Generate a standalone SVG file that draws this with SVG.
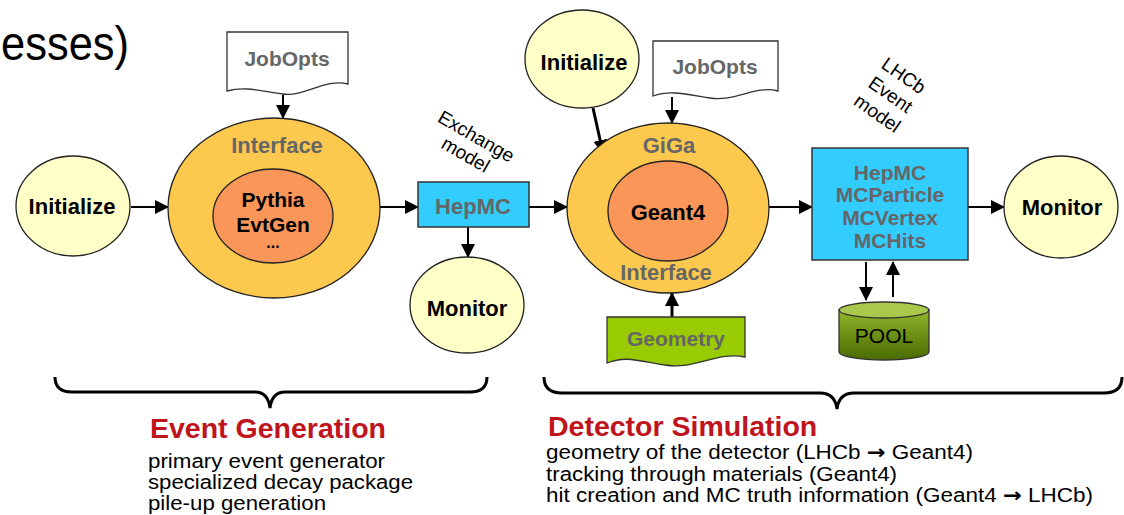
<svg xmlns="http://www.w3.org/2000/svg" width="1124" height="515" viewBox="0 0 1124 515">
<defs>
<marker id="ah" markerUnits="userSpaceOnUse" markerWidth="14" markerHeight="14" refX="13" refY="7" orient="auto">
<path d="M0,0 L14,7 L0,14 Z" fill="#000"/>
</marker>
<linearGradient id="poolg" x1="0" y1="0" x2="0" y2="1">
<stop offset="0" stop-color="#8fb52a"/>
<stop offset="1" stop-color="#4a6a00"/>
</linearGradient>
<style>
.t{font-family:"Liberation Sans",Arial,sans-serif;text-anchor:middle}
.b{font-weight:bold;font-size:22px;fill:#000}
.g{font-weight:bold;font-size:22px;fill:#666}
.el{stroke:#222;stroke-width:1.3}
.yel{fill:#ffffc8}
.org{fill:#fdc84e}
.inr{fill:#fb9659}
.blu{fill:#33ccff;stroke:#333;stroke-width:1.5}
.doc{fill:#fff;stroke:#333;stroke-width:1.3}
.c{stroke:#000;stroke-width:2;fill:none;marker-end:url(#ah)}
.ck{stroke:#000;stroke-width:3;fill:none;marker-end:url(#ah)}
.rot{font-family:"Liberation Sans",Arial,sans-serif;font-size:19px;fill:#000;text-anchor:middle}
.h{font-family:"Liberation Sans",Arial,sans-serif;font-weight:bold;font-size:28.5px;fill:#c0141c}
.d{font-family:"Liberation Sans",Arial,sans-serif;font-size:20px;fill:#000}
.ar{font-family:"DejaVu Sans",sans-serif;font-weight:bold}
.br{stroke:#000;stroke-width:3;fill:none}
</style>
</defs>
<rect width="1124" height="515" fill="#fff"/>
<text x="1" y="60" font-family="Liberation Sans, Arial, sans-serif" font-size="48" textLength="128" lengthAdjust="spacingAndGlyphs" fill="#000">esses)</text>

<g id="connectors">
<line class="c" x1="131" y1="207" x2="168" y2="207"/>
<line class="c" x1="283" y1="95" x2="283" y2="118"/>
<line class="c" x1="380" y1="207" x2="418" y2="207"/>
<line class="c" x1="468" y1="227" x2="468" y2="257"/>
<line class="c" x1="529" y1="207" x2="567" y2="207"/>
<line class="ck" x1="593" y1="108" x2="603" y2="153"/>
<line class="c" x1="672" y1="97" x2="672" y2="123"/>
<line class="ck" x1="672" y1="317" x2="672" y2="293"/>
<line class="c" x1="769" y1="207" x2="812" y2="207"/>
<line class="c" x1="866" y1="262" x2="866" y2="300"/>
<line class="c" x1="893" y1="297" x2="893" y2="262"/>
<line class="c" x1="968" y1="207" x2="1004" y2="207"/>
</g>

<g id="init1">
<ellipse class="el yel" cx="73" cy="206" rx="57" ry="50"/>
<text class="t b" x="72" y="214" font-size="21">Initialize</text>
</g>

<g id="jobopts1">
<path class="doc" d="M227,32 H348 V84 C325,78 305,97 283,94 S245,86 227,91 Z"/>
<text class="t g" x="287" y="66" style="font-size:21px">JobOpts</text>
</g>

<g id="generator">
<ellipse class="el org" cx="274" cy="208" rx="106" ry="90"/>
<ellipse class="el inr" cx="273" cy="216" rx="60" ry="47"/>
<text class="t g" x="277" y="153">Interface</text>
<text class="t b" x="273" y="207" style="font-size:21px">Pythia</text>
<text class="t b" x="273" y="232" style="font-size:21px">EvtGen</text>
<text class="t b" x="273" y="248" style="font-size:16px">...</text>
</g>

<g id="hepmc1">
<rect class="blu" x="418" y="182" width="111" height="45"/>
<text class="t g" x="473" y="214">HepMC</text>
</g>

<g id="exchange">
<g transform="translate(473,142) rotate(30)">
<text class="rot" x="0" y="0">Exchange</text>
<text class="rot" x="0" y="21">model</text>
</g>
</g>

<g id="monitor1">
<ellipse class="el yel" cx="467" cy="305" rx="57" ry="48"/>
<text class="t b" x="467" y="316">Monitor</text>
</g>

<g id="init2">
<ellipse class="el yel" cx="582" cy="59" rx="57" ry="49"/>
<text class="t b" x="584" y="70">Initialize</text>
</g>

<g id="jobopts2">
<path class="doc" d="M653,41 H778 V91 C755,85 735,102 710,98 S670,90 653,96 Z"/>
<text class="t g" x="715" y="74" style="font-size:21px">JobOpts</text>
</g>

<g id="giga">
<ellipse class="el org" cx="668" cy="208" rx="101" ry="85"/>
<ellipse class="el inr" cx="668" cy="211" rx="60" ry="50"/>
<text class="t g" x="669" y="153">GiGa</text>
<text class="t b" x="668" y="220">Geant4</text>
<text class="t g" x="666" y="280">Interface</text>
</g>

<g id="geometry">
<path d="M607,317 H745 V357 C718,351 695,370 665,365 S625,356 607,363 Z" fill="#99cc00" stroke="#333" stroke-width="1.3"/>
<text class="t g" x="676" y="346" style="font-size:21px">Geometry</text>
</g>

<g id="lhcbmodel">
<g transform="translate(900,81) rotate(35)">
<text class="rot" x="0" y="0">LHCb</text>
<text class="rot" x="0" y="23">Event</text>
<text class="rot" x="0" y="46">model</text>
</g>
</g>

<g id="eventmodel">
<rect class="blu" x="812" y="148" width="156" height="112"/>
<text class="t g" x="890" y="180" style="font-size:21px">HepMC</text>
<text class="t g" x="890" y="202" style="font-size:21px">MCParticle</text>
<text class="t g" x="890" y="225" style="font-size:21px">MCVertex</text>
<text class="t g" x="890" y="248" style="font-size:21px">MCHits</text>
</g>

<g id="pool">
<path d="M839,310 V352 A45,8 0 0 0 929,352 V310 Z" fill="url(#poolg)" stroke="#333" stroke-width="1.3"/>
<ellipse cx="884" cy="310" rx="45" ry="8" fill="#a9c94c" stroke="#333" stroke-width="1.3"/>
<text class="t" x="884" y="343" font-size="21" fill="#000">POOL</text>
</g>

<g id="monitor2">
<ellipse class="el yel" cx="1061" cy="207" rx="57" ry="51"/>
<text class="t b" x="1062" y="215">Monitor</text>
</g>

<g id="braces">
<path class="br" d="M55,377 Q55,392 72,392 H255 Q268,392 270,408 Q272,392 285,392 H470 Q487,392 487,377"/>
<path class="br" d="M544,377 Q544,393 562,393 H820 Q835,393 837,409 Q839,393 854,393 H1104 Q1122,393 1122,377"/>
</g>

<g id="eventgen">
<text class="h" x="150" y="438">Event Generation</text>
<text class="d" x="148" y="468" textLength="237" lengthAdjust="spacingAndGlyphs">primary event generator</text>
<text class="d" x="148" y="489" textLength="265" lengthAdjust="spacingAndGlyphs">specialized decay package</text>
<text class="d" x="148" y="510" textLength="178" lengthAdjust="spacingAndGlyphs">pile-up generation</text>
</g>

<g id="detsim">
<text class="h" x="548" y="436">Detector Simulation</text>
<text class="d" x="546" y="459" textLength="427" lengthAdjust="spacingAndGlyphs">geometry of the detector (LHCb <tspan class="ar">→</tspan> Geant4)</text>
<text class="d" x="546" y="481" textLength="351" lengthAdjust="spacingAndGlyphs">tracking through materials (Geant4)</text>
<text class="d" x="546" y="502" textLength="547" lengthAdjust="spacingAndGlyphs">hit creation and MC truth information (Geant4 <tspan class="ar">→</tspan> LHCb)</text>
</g>
</svg>
